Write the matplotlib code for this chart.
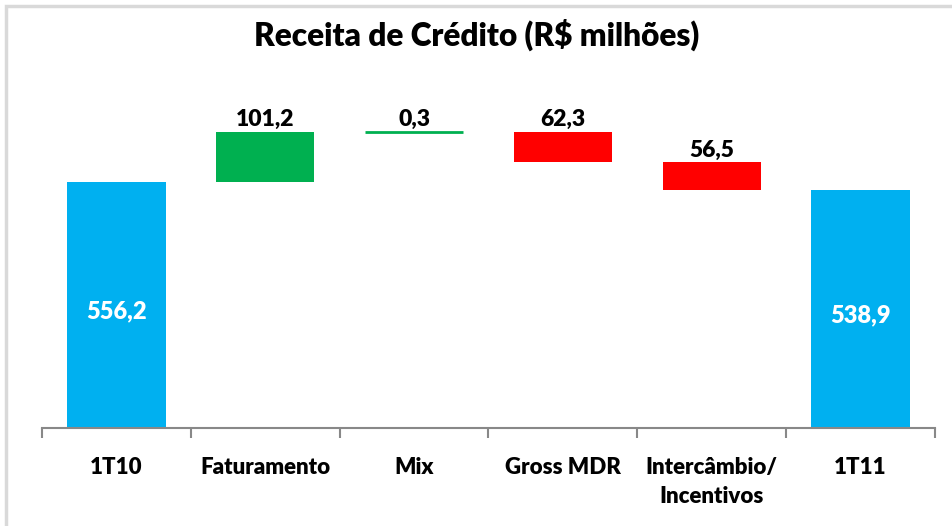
import numpy as np
import matplotlib.pyplot as plt
from matplotlib.patches import Rectangle

plt.rcParams['font.family'] = ['Lato', 'DejaVu Sans']

categories = ['1T10', 'Faturamento', 'Mix', 'Gross MDR', 'Intercâmbio/\nIncentivos', '1T11']
values = [556.2, 101.2, 0.3, -62.3, -56.5, 538.9]
labels = ['556,2', '101,2', '0,3', '62,3', '56,5', '538,9']
kinds = ['total', 'up', 'up', 'down', 'down', 'total']

colors = {'total': '#00B0F0', 'up': '#00B050', 'down': '#FF0000'}

fig = plt.figure(figsize=(9.53, 5.26), dpi=100)
# light frame around the chart
fig.patches.append(Rectangle((6 / 953, -0.05), 1.2, 1 - 6 / 526 + 0.05, transform=fig.transFigure,
                             fill=False, edgecolor='#D9D9D9', linewidth=2.5))
ax = fig.add_axes([42 / 953, 1 - 428 / 526, (935 - 42) / 953, (428 - 80) / 526])

x = np.arange(len(categories))
running = 0.0
for i, (v, k) in enumerate(zip(values, kinds)):
    if k == 'total':
        bottom, height = 0, v
        running = v
    else:
        bottom = running if v > 0 else running + v
        height = abs(v)
        running += v
    ax.bar(x[i], height, bottom=bottom, width=0.66, color=colors[k],
           edgecolor=colors[k], linewidth=2 if height < 1 else 0, zorder=2)
    if k == 'total':
        ax.text(x[i], bottom + height / 2 + 16, labels[i], ha='center', va='center',
                color='white', fontsize=17, fontweight='heavy')
    else:
        ax.text(x[i], bottom + height + 3, labels[i], ha='center', va='bottom',
                color='black', fontsize=16.5, fontweight='heavy')

ax.set_xlim(-0.5, len(categories) - 0.5)
ax.set_ylim(58, 762)

for s in ['top', 'right', 'left']:
    ax.spines[s].set_visible(False)
ax.spines['bottom'].set_color('#888888')
ax.spines['bottom'].set_linewidth(1.5)
ax.spines['bottom'].set_zorder(3)
ax.set_yticks([])

ax.set_xticks(x)
ax.set_xticklabels(categories, fontsize=16, fontweight='heavy', va='top', linespacing=1.45)
ax.tick_params(axis='x', which='major', length=0, pad=21)
ax.set_xticks(np.arange(-0.5, len(categories)), minor=True)
ax.tick_params(axis='x', which='minor', length=7, width=1.5, color='#888888')

fig.text(0.5, 1 - 35 / 526, 'Receita de Crédito (R$ milhões)', ha='center', va='center',
         fontsize=22.8, fontweight='heavy')

fig.savefig('out.png', dpi=100)
